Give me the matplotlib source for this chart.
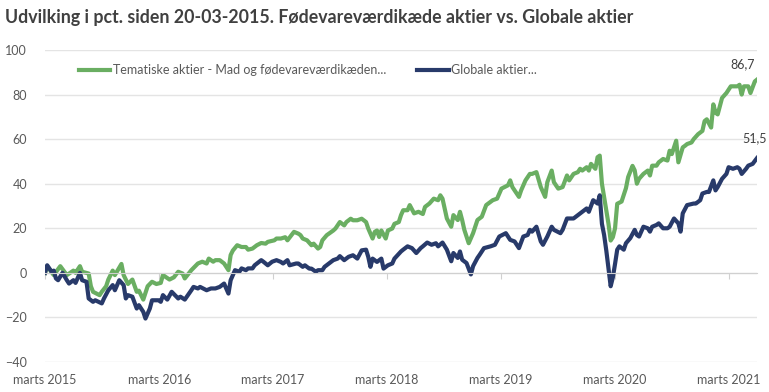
import pandas as pd
import numpy as np
import matplotlib
matplotlib.use("Agg")
import matplotlib.pyplot as plt

plt.rcParams['font.family'] = ['Lato', 'DejaVu Sans']

start = pd.Timestamp("2015-03-20")

# uger efter start og udvikling i pct. (aflaest fra grafen)
tema_uger = [0, 1, 4, 7, 10, 13, 14, 16, 17, 20, 21, 22, 25, 26, 28, 29, 31, 32, 35, 36,
             38, 40, 42, 43, 45, 47, 49, 51, 53, 54, 57, 59, 61, 63, 64, 67, 70, 72, 74, 75,
             77, 78, 80, 82, 84, 85, 86, 88, 90, 92, 93, 95, 97, 99, 101, 102, 105, 106, 108, 110,
             111, 114, 116, 117, 118, 120, 122, 123, 125, 126, 127, 129, 132, 133, 135, 137, 138, 140, 141, 143,
             145, 147, 148, 150, 151, 152, 153, 154, 156, 157, 159, 160, 162, 163, 164, 166, 167, 169, 171, 173,
             174, 176, 178, 180, 181, 182, 184, 186, 187, 189, 190, 191, 192, 194, 196, 198, 200, 202, 205, 207,
             209, 212, 213, 214, 217, 218, 220, 222, 223, 225, 227, 229, 230, 232, 233, 235, 237, 239, 240, 242,
             244, 245, 246, 248, 249, 250, 252, 253, 254, 255, 256, 257, 258, 259, 260, 261, 262, 264, 266, 267,
             269, 270, 271, 272, 274, 276, 277, 278, 280, 281, 283, 285, 286, 287, 289, 290, 292, 293, 294, 296,
             297, 299, 301, 302, 303, 305, 306, 307, 308, 310, 312, 314, 317, 318, 319, 320, 322, 323, 325, 326]
tema_pct = [0, 3, -1, 3, -1, 1, 0, 3, 0.5, -0.3, -6, -8.5, -10, -8.5, -6, -3, 1, -1, 4, -1,
            -5, -3, -8.5, -8, -12, -6, -4, -5, -4.5, -1, -3, -2, 0.5, -0.3, -2.5, 1.2, 4.2, 5, 4.2, 6.4,
            5, 5.7, 5.7, 4.2, 1.2, 8, 10, 12.4, 11.6, 11.6, 10.4, 10.9, 12.4, 13.4, 13.1, 13.9, 14.6, 15.4, 15.4, 16,
            14.6, 18.4, 17.6, 16.9, 15.4, 14.6, 12.4, 13.1, 10.9, 11.6, 14.6, 16.9, 19, 19.9, 22.8, 21.3, 22.8, 24.3, 23.6, 23.6,
            24.3, 22.8, 19.9, 15.4, 18.4, 19, 16.1, 19, 15.4, 19, 19.9, 22, 22.8, 25.9, 28.1, 28.1, 30.4, 26.7, 27.4, 26.4,
            29.6, 31.1, 33.3, 32.6, 34.8, 33.3, 24.4, 20.7, 25.9, 23.7, 27.4, 23.7, 19.3, 13.3, 17.8, 23.7, 25.2, 30.4, 32.6, 33.3,
            37.8, 39.3, 41.5, 38.5, 34.1, 37, 41.5, 44.4, 44.4, 45.2, 38.5, 34.1, 40.7, 45.9, 40.7, 37.8, 38.5, 43.7, 41.5, 44.4,
            45.2, 46.7, 45.9, 47.4, 45.9, 48.9, 46.7, 51.9, 52.6, 40, 34, 28, 22, 14.5, 16, 20, 31, 32, 38, 43,
            48, 46, 40, 42.2, 44.4, 45.9, 43.7, 48.1, 48.1, 49.6, 51.1, 50.4, 54.8, 53.3, 59.3, 49.6, 56.3, 57, 57.8, 58.5,
            60, 62.2, 63.7, 68.1, 68.9, 65.2, 75.6, 71.9, 71.1, 78.5, 80.7, 83.7, 83.7, 84.4, 80, 83.7, 83.7, 80.7, 85.9, 86.7]

glob_uger = [0, 1, 3, 4, 5, 6, 8, 10, 11, 13, 14, 16, 17, 19, 20, 22, 23, 26, 27, 29,
             31, 32, 34, 36, 37, 38, 40, 42, 43, 45, 46, 48, 49, 52, 53, 54, 56, 58, 61, 62,
             64, 67, 68, 70, 71, 74, 76, 78, 80, 82, 84, 85, 87, 89, 90, 92, 93, 95, 96, 99,
             100, 102, 104, 106, 108, 109, 111, 112, 115, 116, 118, 119, 121, 122, 124, 125, 127, 128, 130, 132,
             134, 135, 137, 139, 141, 143, 145, 147, 148, 149, 150, 152, 154, 155, 157, 159, 160, 163, 164, 166,
             168, 170, 172, 173, 175, 177, 179, 180, 182, 184, 186, 187, 189, 190, 191, 193, 195, 196, 198, 199,
             201, 204, 206, 208, 211, 213, 215, 217, 219, 221, 222, 223, 225, 227, 228, 230, 232, 233, 236, 237,
             239, 242, 244, 246, 248, 249, 251, 253, 254, 255, 256, 257, 258, 259, 260, 261, 262, 263, 265, 266,
             268, 270, 271, 272, 274, 276, 277, 278, 280, 281, 283, 285, 286, 288, 290, 291, 292, 294, 297, 298,
             300, 301, 303, 304, 306, 307, 308, 310, 312, 313, 315, 317, 318, 319, 321, 322, 324, 326]
glob_pct = [0, 3.4, 0.5, 1, -2.5, -3.3, 0, -3.3, -4.8, -3.3, -4.5, 0, -3.3, -4, -11.5, -13, -12.3, -13.7, -11.5, -7.8,
            -5.5, -7.8, -3.3, -5.5, -11.5, -10, -10.7, -16, -14.5, -17.5, -20.5, -16, -12.3, -12.3, -13, -10, -12, -8.5, -11.5, -10.7,
            -12, -7.8, -6.3, -7, -6.3, -7.8, -7, -7, -6.3, -4.8, -9.3, -3.3, 1.2, 0.5, 2, 1.2, 2, 2, 3.4, 5.7,
            5, 3.4, 5, 5.7, 4.9, 4.2, 5.7, 3.4, 4.2, 4.2, 2.7, 3.4, 1.9, 1.9, 0.5, 1.2, 1.2, 2.7, 4.2, 5.7,
            6.4, 7.5, 5.7, 7.2, 7.9, 6.4, 10.1, 10.4, 7.2, 2.7, 6.4, 4.9, 6.4, 1.9, 3.4, 4.2, 6.4, 9.6, 10.4, 11.9,
            11.1, 8.9, 11.1, 11.9, 13.6, 12.6, 13.3, 11.9, 13.6, 10.4, 5.2, 8.9, 6.7, 9.6, 5.9, 4.4, -0.7, 3, 6.7, 8.1,
            11.1, 11.9, 12.6, 16.3, 17.8, 14.8, 14.1, 11.1, 16.3, 17, 19.3, 18.5, 20.7, 14.1, 12.6, 16.3, 20.7, 19.3, 17.8, 19.3,
            24.4, 24.4, 25.9, 27.4, 28.9, 27.4, 32.6, 31.1, 34.8, 22, 17, 10, 2, -6, -2, 4, 10.4, 11.9, 10.4, 13.3,
            15.6, 19.3, 17, 16.3, 20.7, 20, 18.5, 20.7, 21.5, 22.2, 20, 20, 20.7, 24.4, 22.2, 18.5, 26.7, 30.4, 31.1, 31.1,
            32.6, 35.6, 36.3, 36.3, 41.5, 37, 38.5, 42.2, 44.4, 47.4, 46.7, 47.4, 46.7, 44.4, 46.7, 48.1, 48.9, 51.5]

tema_navn = "Tematiske aktier - Mad og fødevareværdikæden..."
glob_navn = "Globale aktier..."
aar = [2015, 2016, 2017, 2018, 2019, 2020, 2021]

tema_dato = start + pd.to_timedelta(np.array(tema_uger) * 7, unit="D")
glob_dato = start + pd.to_timedelta(np.array(glob_uger) * 7, unit="D")

green = "#6aae62"
navy = "#283a6a"
grey = "#595959"
gridc = "#e4e4e4"

fig = plt.figure(figsize=(7.69, 3.92), dpi=100)
ax = fig.add_axes([45 / 769, 1 - 362 / 392, 712 / 769, 312 / 392])

ax.plot(tema_dato, tema_pct, color=green, lw=3, label=tema_navn, solid_joinstyle="round")
ax.plot(glob_dato, glob_pct, color=navy, lw=3, label=glob_navn, solid_joinstyle="round")

ax.set_ylim(-40, 100)
ax.set_yticks(range(-40, 101, 20))
ax.set_xlim(tema_dato[0], tema_dato[-1])
ax.grid(axis="y", color=gridc, lw=1)
ax.set_axisbelow(True)
for s in ["top", "right", "left"]:
    ax.spines[s].set_visible(False)
ax.spines["bottom"].set_position(("data", 0))
ax.spines["bottom"].set_color("#d0d0d0")
ax.tick_params(axis="y", length=0, labelsize=9, labelcolor=grey, pad=13)

ticks = [pd.Timestamp(str(a) + "-03-20") for a in aar]
ax.set_xticks(ticks)
ax.tick_params(axis="x", direction="out", length=4, color="#d0d0d0", labelbottom=False)

sec = ax.secondary_xaxis(0.0)
sec.set_xticks(ticks)
sec.set_xticklabels(["marts " + str(a) for a in aar])
sec.tick_params(length=0, labelsize=9, labelcolor=grey, pad=9)
sec.spines["bottom"].set_visible(False)

ax.annotate("86,7", (tema_dato[-1], tema_pct[-1]), xytext=(-10, 7), textcoords="offset points",
            ha="center", va="bottom", fontsize=9, color="#404040")
ax.annotate("51,5", (glob_dato[-1], glob_pct[-1]), xytext=(-2, 10), textcoords="offset points",
            ha="center", va="bottom", fontsize=9, color="#404040", annotation_clip=False)

ax.legend(loc="center left", bbox_to_anchor=((79 - 45) / 712, (362 - 70) / 312), ncol=2, frameon=False,
          fontsize=9, labelcolor=grey, handlelength=2.5, handletextpad=0.2, columnspacing=2.5,
          borderpad=0, borderaxespad=0)

fig.text(5 / 769, 1 - 17 / 392, "Udvilking i pct. siden 20-03-2015. Fødevareværdikæde aktier vs. Globale aktier",
         fontsize=12.8, fontweight="bold", color="#404040", va="center", ha="left")

plt.savefig("out.png", dpi=100)
